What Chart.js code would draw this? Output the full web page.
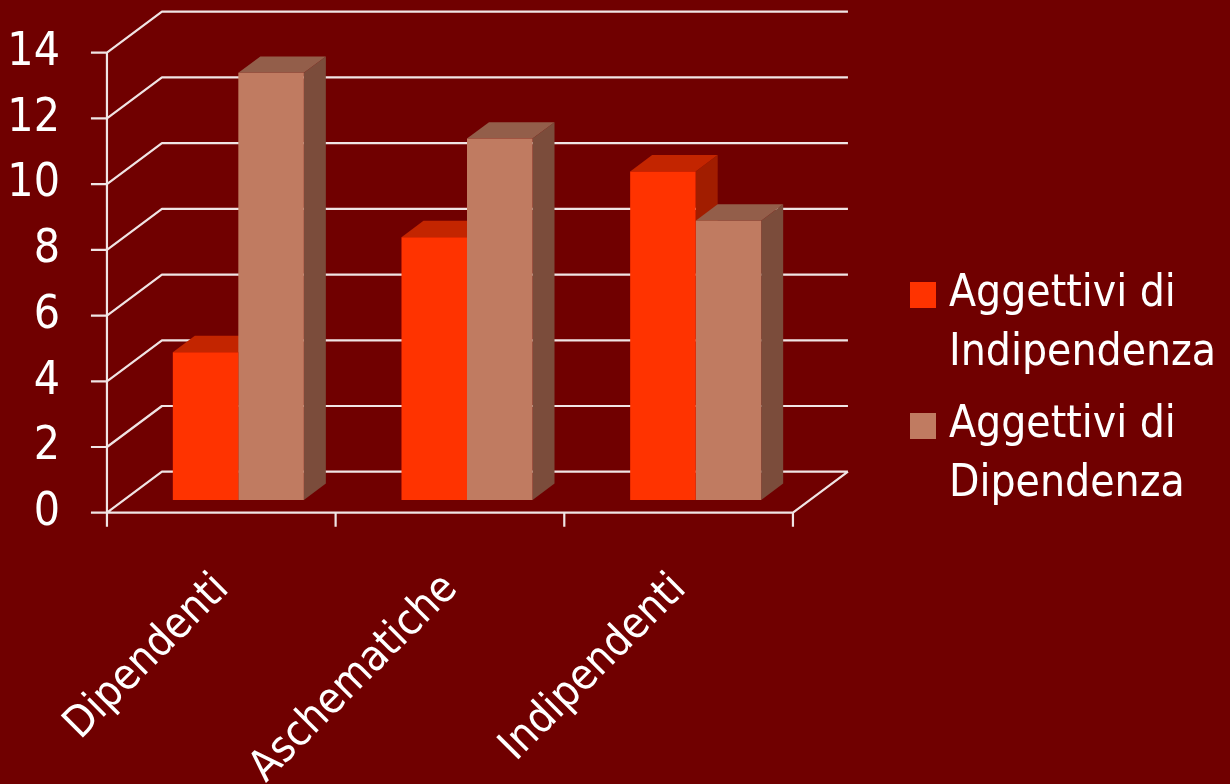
<!DOCTYPE html>
<html>
<head>
<meta charset="utf-8">
<script src="https://cdn.jsdelivr.net/npm/chart.js@4"></script>
<style>
  html,body{margin:0;padding:0;background:#700000;}
  #wrap{width:1230px;height:784px;position:relative;}
</style>
</head>
<body>
<div id="wrap"><canvas id="chart"></canvas></div>
<script>
(function(){
  'use strict';

  // Data
  const categories = ['Dipendenti', 'Aschematiche', 'Indipendenti'];
  const seriesNames = ['Aggettivi di Indipendenza', 'Aggettivi di Dipendenza'];
  const legendLines = [['Aggettivi di', 'Indipendenza'], ['Aggettivi di', 'Dipendenza']];
  const indipendenza = [4.5, 8, 10];
  const dipendenza = [13, 11, 8.5];
  const yMin = 0, yMax = 14, yStep = 2;

  const FONT = '"DejaVu Sans Condensed", "DejaVu Sans", sans-serif';
  const GRID = '#f0e4e4';
  // fake 3D: floor depth in px, bars sit between BAR_FRONT and BAR_BACK of it
  const DX = 55, DY = -41;
  const BAR_FRONT = 0.31, BAR_BACK = 0.71;

  function poly(ctx, pts){
    ctx.beginPath();
    pts.forEach(([px,py],i)=> i ? ctx.lineTo(px,py) : ctx.moveTo(px,py));
    ctx.closePath();
    ctx.fill();
  }

  const box3d = {
    id:'box3d',
    beforeDatasetsDraw(chart){
      const {ctx, chartArea:a, scales:{y}} = chart;
      const ox = BAR_FRONT*DX, oy = BAR_FRONT*DY;   // bar plane vs front plane
      const fx0 = a.left - ox, fx1 = a.right - ox;
      const f0 = y.getPixelForValue(yMin) - oy, fTop = y.getPixelForValue(yMax) - oy;
      ctx.save();
      ctx.strokeStyle = GRID; ctx.lineWidth = 2.2; ctx.lineJoin = 'round';
      ctx.beginPath();
      y.ticks.forEach(t=>{
        const fy = y.getPixelForValue(t.value) - oy;
        ctx.moveTo(fx0-16, fy); ctx.lineTo(fx0, fy);
        ctx.lineTo(fx0+DX, fy+DY); ctx.lineTo(fx1+DX, fy+DY);
      });
      ctx.moveTo(fx0, fTop); ctx.lineTo(fx0, f0); ctx.lineTo(fx1, f0); ctx.lineTo(fx1+DX, f0+DY);
      const cw = (fx1-fx0)/categories.length;
      for(let i=0;i<=categories.length;i++){
        const cx = fx0 + i*cw;
        ctx.moveTo(cx, f0); ctx.lineTo(cx, f0+14);
      }
      ctx.stroke();

      // top + side faces, front faces are the normal bars
      const dx = (BAR_BACK-BAR_FRONT)*DX, dy = (BAR_BACK-BAR_FRONT)*DY;
      categories.forEach((c,i)=>{
        chart.data.datasets.forEach((ds,di)=>{
          const bar = chart.getDatasetMeta(di).data[i];
          if(!bar) return;
          const {x:bx, y:by, base, width} = bar.getProps(['x','y','base','width'], true);
          const l = bx - width/2, r = bx + width/2;
          ctx.fillStyle = ds.sideColor;
          poly(ctx, [[r,by],[r+dx,by+dy],[r+dx,base+dy],[r,base]]);
          ctx.fillStyle = ds.topColor;
          poly(ctx, [[l,by],[r,by],[r+dx,by+dy],[l+dx,by+dy]]);
        });
      });
      ctx.restore();
    },
    afterDraw(chart){
      const {ctx, chartArea:a} = chart;
      ctx.save();
      ctx.font = '44px ' + FONT;
      ctx.textBaseline = 'alphabetic';
      let base = 306;
      chart.data.datasets.forEach((ds,i)=>{
        ctx.fillStyle = ds.backgroundColor;
        ctx.fillRect(a.right+100, base-24, 26, 26);
        ctx.fillStyle = '#ffffff';
        legendLines[i].forEach((ln,k)=> ctx.fillText(ln, a.right+139, base + k*59));
        base += 131;
      });
      ctx.restore();
    }
  };

  new Chart(document.getElementById('chart'), {
    type:'bar',
    data:{
      labels: categories,
      datasets:[
        { label: seriesNames[0], data: indipendenza, backgroundColor:'#ff3300', topColor:'#c32500', sideColor:'#a11d00' },
        { label: seriesNames[1], data: dipendenza, backgroundColor:'#c07b61', topColor:'#935e4a', sideColor:'#7b4c3b' }
      ]
    },
    options:{
      responsive:true, maintainAspectRatio:false, animation:false,
      layout:{ padding:{ left:0, top:40, right:420, bottom:0 } },
      datasets:{ bar:{ barPercentage:1, categoryPercentage:0.573, borderWidth:0 } },
      plugins:{ legend:{ display:false }, tooltip:{ enabled:false } },
      scales:{
        x:{
          grid:{ display:false, drawTicks:true, tickLength:64 }, border:{ display:false },
          ticks:{ color:'#ffffff', font:{ family:FONT, size:43 }, minRotation:45, maxRotation:45, padding:0, labelOffset:-16 },
          afterFit(s){ s.height = 284; }
        },
        y:{
          min:yMin, max:yMax,
          grid:{ display:false, drawTicks:true, tickLength:64 }, border:{ display:false },
          ticks:{ stepSize:yStep, color:'#ffffff', font:{ family:FONT, size:46 }, padding:0, labelOffset:13 },
          afterFit(s){ s.width = 124; }
        }
      }
    },
    plugins:[box3d]
  });
})();
</script>
</body>
</html>
